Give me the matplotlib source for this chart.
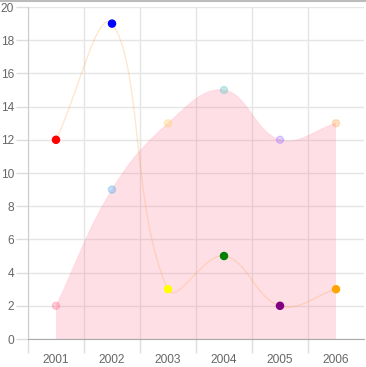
import matplotlib
matplotlib.use("Agg")
import matplotlib.pyplot as plt
from matplotlib.path import Path
from matplotlib.patches import PathPatch
import numpy as np

years = ["2001", "2002", "2003", "2004", "2005", "2006"]
area_values = [2, 9, 13, 15, 12, 13]
line_values = [12, 19, 3, 5, 2, 3]

area_point_colors = [(255, 99, 132), (54, 162, 235), (255, 206, 86),
                     (75, 192, 192), (153, 102, 255), (255, 159, 64)]
line_point_colors = ["red", "blue", "yellow", "green", "purple", "orange"]

W, H = 366, 367
LEFT, RIGHT, TOP, BOTTOM = 28, 364, 7, 339
YMAX = 20

plt.rcParams["font.family"] = ["Liberation Sans", "DejaVu Sans"]


def rgba(c, a):
    return (c[0] / 255, c[1] / 255, c[2] / 255, a)


def spline_path(xs, ys, sx, sy, tension=0.4, ylim=(0, YMAX)):
    # Chart.js style bezier control points, computed in pixel space
    px = np.array(xs, float) * sx
    py = np.array(ys, float) * sy
    n = len(px)
    prev_cp, next_cp = [], []
    for i in range(n):
        a = max(i - 1, 0)
        b = min(i + 1, n - 1)
        d01 = np.hypot(px[i] - px[a], py[i] - py[a])
        d12 = np.hypot(px[b] - px[i], py[b] - py[i])
        tot = d01 + d12
        s01 = d01 / tot if tot else 0
        s12 = d12 / tot if tot else 0
        fa, fb = tension * s01, tension * s12
        dx, dy = px[b] - px[a], py[b] - py[a]
        prev_cp.append([px[i] - fa * dx, py[i] - fa * dy])
        next_cp.append([px[i] + fb * dx, py[i] + fb * dy])
    verts = [(xs[0], ys[0])]
    codes = [Path.MOVETO]
    for i in range(n - 1):
        c1 = next_cp[i]
        c2 = prev_cp[i + 1]
        c1 = (c1[0] / sx, min(max(c1[1] / sy, ylim[0]), ylim[1]))
        c2 = (c2[0] / sx, min(max(c2[1] / sy, ylim[0]), ylim[1]))
        verts += [c1, c2, (xs[i + 1], ys[i + 1])]
        codes += [Path.CURVE4] * 3
    return verts, codes


fig = plt.figure(figsize=(W / 100, H / 100), dpi=100)
ax = fig.add_axes([LEFT / W, (H - BOTTOM) / H, (RIGHT - LEFT) / W, (BOTTOM - TOP) / H])

x = np.arange(len(years))
ax.set_xlim(-0.5, len(years) - 0.5)
ax.set_ylim(0, YMAX)
sx = (RIGHT - LEFT) / len(years)
sy = (BOTTOM - TOP) / YMAX

# grid
for xv in np.arange(-0.5, len(years) - 1, 1.0):
    ax.axvline(xv, color="#e5e5e5", lw=1, zorder=0)
for yv in range(0, YMAX + 1, 2):
    ax.axhline(yv, color="#e5e5e5", lw=1, zorder=0)

# filled area dataset
verts, codes = spline_path(x, area_values, sx, sy)
fill_verts = verts + [(x[-1], 0), (x[0], 0), (x[0], area_values[0])]
fill_codes = codes + [Path.LINETO, Path.LINETO, Path.CLOSEPOLY]
ax.add_patch(PathPatch(Path(fill_verts, fill_codes), facecolor=rgba((255, 99, 132), 0.2),
                       edgecolor="none", zorder=1))
ax.add_patch(PathPatch(Path(verts, codes), facecolor="none",
                       edgecolor=rgba((255, 99, 132), 0.1), lw=1, zorder=2))
ax.scatter(x, area_values, s=26, c=[rgba(c, 0.3) for c in area_point_colors],
           edgecolors=[rgba(c, 0.3) for c in area_point_colors], linewidths=1, zorder=3)

# line dataset
verts, codes = spline_path(x, line_values, sx, sy)
ax.add_patch(PathPatch(Path(verts, codes), facecolor="none",
                       edgecolor=rgba((255, 159, 64), 0.25), lw=1, zorder=4))
ax.scatter(x, line_values, s=26, c=line_point_colors, edgecolors=line_point_colors,
           linewidths=1, zorder=5)

# axes styling
for side in ["top", "right"]:
    ax.spines[side].set_visible(False)
ax.spines["bottom"].set_color("#aaaaaa")
ax.spines["left"].set_color("#cccccc")

ax.set_xticks(np.arange(-0.5, len(years) - 1, 1.0))
ax.set_xticklabels([])
ax.set_xticks(x, minor=True)
ax.set_xticklabels(years, minor=True)
ax.tick_params(axis="x", which="major", length=10, color="#dddddd", width=1)
ax.tick_params(axis="x", which="minor", length=0, pad=11, labelsize=8.6, labelcolor="#666666")
ax.set_yticks(range(0, YMAX + 1, 2))
ax.tick_params(axis="y", length=9, color="#dddddd", width=1, pad=1, labelsize=8.6,
               labelcolor="#666666")

# top border line
fig.add_artist(plt.Line2D([0, 1], [1 - 0.5 / H, 1 - 0.5 / H], color="#bbbbbb", lw=1.5))

fig.savefig("out.png", dpi=100)
